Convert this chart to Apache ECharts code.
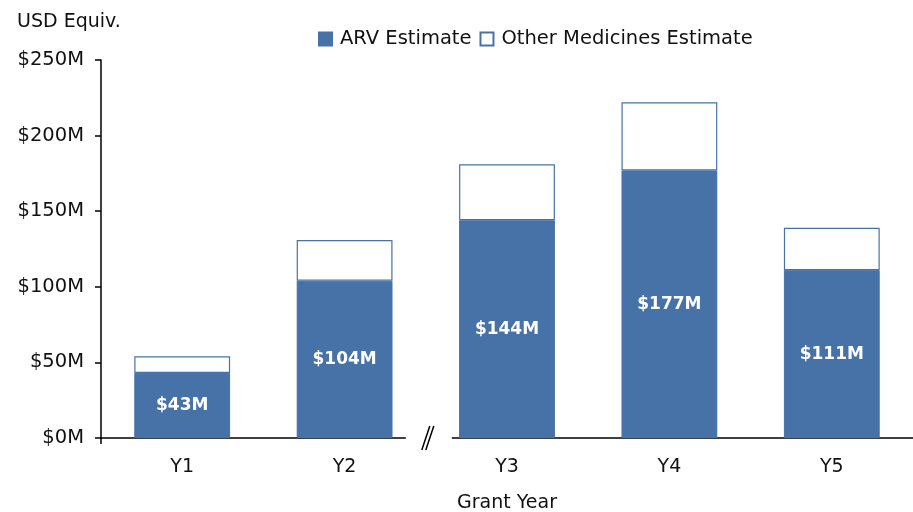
<!DOCTYPE html>
<html>
<head>
<meta charset="utf-8">
<script src="https://cdn.jsdelivr.net/npm/echarts@6/dist/echarts.min.js"></script>
<style>
  html, body { margin: 0; padding: 0; background: #fff; }
  #chart { width: 913px; height: 512px; }
</style>
</head>
<body>
<div id="chart"></div>
<script>
var years = ["Y1", "Y2", "Y3", "Y4", "Y5"];
var arvEstimate = [43, 104, 144, 177, 111];
var otherEstimate = [11, 27, 37, 45, 28];
var yTicks = [0, 50, 100, 150, 200, 250];

var blue = "#4672a8";
var font = "DejaVu Sans";

var chart = echarts.init(document.getElementById("chart"));

var option = {
  backgroundColor: "#fff",
  animation: false,
  title: {
    text: "USD Equiv.",
    left: 12,
    top: 8,
    textStyle: { fontFamily: font, fontSize: 19, fontWeight: "normal", color: "#111" }
  },
  legend: {
    top: 24,
    left: 313,
    icon: "rect",
    itemWidth: 13,
    itemHeight: 13,
    itemGap: 8,
    textStyle: { fontFamily: font, fontSize: 19.5, color: "#111", padding: [0, 0, 0, 3] },
    data: ["ARV Estimate", "Other Medicines Estimate"]
  },
  grid: { left: 101, right: 0, top: 60, bottom: 74, containLabel: false, outerBoundsMode: "none" },
  xAxis: {
    type: "category",
    data: years,
    name: "Grant Year",
    nameLocation: "middle",
    nameGap: 56,
    nameTextStyle: { fontFamily: font, fontSize: 19, color: "#111" },
    axisLine: { lineStyle: { color: "#000", width: 1.5 } },
    axisTick: { show: false },
    axisLabel: { fontFamily: font, fontSize: 19, color: "#111", margin: 20 }
  },
  yAxis: {
    type: "value",
    min: yTicks[0],
    max: yTicks[yTicks.length - 1],
    interval: 50,
    axisLine: { show: true, lineStyle: { color: "#000", width: 1.5 } },
    axisTick: { show: true, length: 6, lineStyle: { color: "#000", width: 1.5 } },
    splitLine: { show: false },
    axisLabel: {
      fontFamily: font, fontSize: 19.5, color: "#111", margin: 17,
      formatter: function (v) { return "$" + v + "M"; }
    }
  },
  series: [
    {
      name: "ARV Estimate",
      type: "bar",
      stack: "total",
      barWidth: "59%",
      data: arvEstimate,
      itemStyle: { color: blue, borderColor: blue, borderWidth: 1 },
      label: {
        show: true,
        position: "inside",
        fontFamily: font,
        fontSize: 17,
        fontWeight: "bold",
        color: "#fff",
        formatter: function (p) { return "$" + p.value + "M"; }
      }
    },
    {
      name: "Other Medicines Estimate",
      type: "bar",
      stack: "total",
      data: otherEstimate,
      itemStyle: { color: "#fff", borderColor: blue, borderWidth: 1.2 }
    }
  ]
};

chart.setOption(option);

// axis break marker between Y2 and Y3
var x2 = chart.convertToPixel({ xAxisIndex: 0 }, "Y2");
var x3 = chart.convertToPixel({ xAxisIndex: 0 }, "Y3");
var y0 = chart.convertToPixel({ yAxisIndex: 0 }, 0);
var bx = (x2 + x3) / 2 + 2;
chart.setOption({
  graphic: [
    { type: "rect", shape: { x: bx - 22, y: y0 - 3, width: 46, height: 6 }, style: { fill: "#fff" }, z: 100 },
    { type: "line", shape: { x1: bx - 6, y1: y0 + 12, x2: bx + 2, y2: y0 - 12 }, style: { stroke: "#000", lineWidth: 1.5 }, z: 101 },
    { type: "line", shape: { x1: bx - 2, y1: y0 + 12, x2: bx + 6, y2: y0 - 12 }, style: { stroke: "#000", lineWidth: 1.5 }, z: 101 },
    { type: "line", shape: { x1: 101, y1: y0, x2: 101, y2: y0 + 6 }, style: { stroke: "#000", lineWidth: 1.5 }, z: 101 }
  ]
});
</script>
</body>
</html>
